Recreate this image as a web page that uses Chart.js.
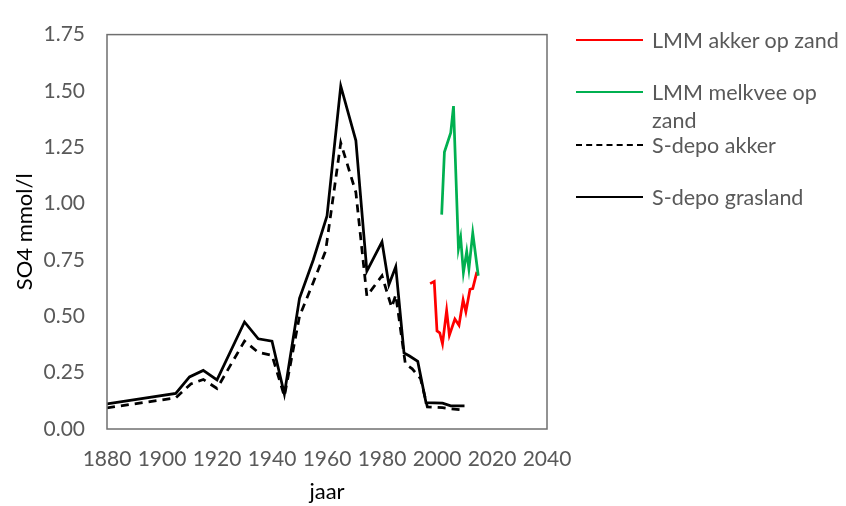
<!DOCTYPE html>
<html>
<head>
<meta charset="utf-8">
<script src="https://cdn.jsdelivr.net/npm/chart.js@4.4.1/dist/chart.umd.min.js"></script>
<style>
  html, body { margin: 0; padding: 0; background: #fff; }
  #wrap { position: relative; width: 846px; height: 506px; }
  #legend { position: absolute; left: 576px; top: 0; width: 270px; font-family: Lato, sans-serif; font-size: 21.5px; color: #595959; }
  .item { position: absolute; left: 0; display: flex; align-items: flex-start; }
  .item .swatch { width: 67px; height: 0; margin-top: 13px; flex: none; }
  .item .txt { margin-left: 9px; width: 192px; line-height: 28px; }
</style>
</head>
<body>
<div id="wrap">
  <canvas id="chart" width="846" height="506"></canvas>
  <div id="legend"></div>
</div>
<script>
// LMM akker op zand
const akkerZandJaar = [1997.5, 1999, 2000, 2001, 2002, 2003.5, 2004.5, 2006.5, 2008, 2009.5, 2010.5, 2012, 2013, 2014.5];
const akkerZandSO4 = [0.645, 0.655, 0.435, 0.427, 0.378, 0.526, 0.416, 0.488, 0.46, 0.573, 0.52, 0.62, 0.623, 0.697];

// LMM melkvee op zand
const melkveeJaar = [2001.7, 2002.7, 2005, 2006, 2007.8, 2008.6, 2009.6, 2010.8, 2011.6, 2013, 2015];
const melkveeSO4 = [0.951, 1.229, 1.315, 1.433, 0.80, 0.85, 0.694, 0.787, 0.71, 0.87, 0.68];

// S-depo akker
const depoAkkerJaar = [1880, 1905, 1910.5, 1915, 1920, 1930, 1935, 1940, 1944.5, 1950, 1955, 1959.5, 1965, 1967, 1970.5, 1974.5, 1980, 1983.5, 1985, 1988.5, 1991, 1994, 1996.5, 2002, 2005, 2009.5];
const depoAkkerSO4 = [0.094, 0.138, 0.20, 0.22, 0.18, 0.39, 0.34, 0.327, 0.145, 0.50, 0.65, 0.79, 1.27, 1.19, 1.05, 0.59, 0.68, 0.54, 0.595, 0.288, 0.267, 0.224, 0.098, 0.095, 0.09, 0.085];

// S-depo grasland
const depoGrasJaar = [1880, 1905, 1910, 1915, 1920, 1930, 1935, 1940, 1944.5, 1950, 1955, 1960, 1965, 1970.5, 1974.5, 1980, 1982.5, 1985, 1988, 1990, 1993, 1996, 2002, 2005, 2010];
const depoGrasSO4 = [0.111, 0.158, 0.231, 0.26, 0.218, 0.475, 0.40, 0.39, 0.155, 0.58, 0.75, 0.945, 1.522, 1.28, 0.70, 0.83, 0.64, 0.72, 0.338, 0.324, 0.30, 0.117, 0.115, 0.103, 0.103];

const labels = ['LMM akker op zand', 'LMM melkvee op zand', 'S-depo akker', 'S-depo grasland'];
const legendTop = [26, 78, 131, 183];

const xTicks = [1880, 1900, 1920, 1940, 1960, 1980, 2000, 2020, 2040];
const yTicks = [0, 0.25, 0.5, 0.75, 1.0, 1.25, 1.5, 1.75];

const pts = (xs, ys) => xs.map((x, i) => ({ x: x, y: ys[i] }));

const series = [
    { data: pts(akkerZandJaar, akkerZandSO4), color: '#ff0000', dash: [] },
    { data: pts(melkveeJaar, melkveeSO4), color: '#00b050', dash: [] },
    { data: pts(depoAkkerJaar, depoAkkerSO4), color: '#000000', dash: [8, 6] },
    { data: pts(depoGrasJaar, depoGrasSO4), color: '#000000', dash: [] }
];

// rand om het plotgebied
const boxPlugin = {
    id: 'box',
    afterDraw(chart) {
        const a = chart.chartArea;
        const ctx = chart.ctx;
        ctx.save();
        ctx.strokeStyle = '#6f6f6f';
        ctx.lineWidth = 1.5;
        ctx.strokeRect(a.left, a.top, a.right - a.left, a.bottom - a.top);
        ctx.restore();
    }
};

new Chart(document.getElementById('chart'), {
    type: 'scatter',
    data: {
        datasets: series.map((s, i) => ({
            label: labels[i],
            data: s.data,
            showLine: true,
            borderColor: s.color,
            backgroundColor: s.color,
            borderWidth: 2.75,
            borderDash: s.dash,
            pointRadius: 0,
            tension: 0,
            order: 3 - i
        }))
    },
    options: {
        responsive: false,
        animation: false,
        layout: { padding: { left: 0, top: 20, right: 299, bottom: 0 } },
        plugins: {
            legend: { display: false },
            tooltip: { enabled: false }
        },
        scales: {
            x: {
                type: 'linear',
                min: 1880,
                max: 2040,
                afterBuildTicks: (scale) => { scale.ticks = xTicks.map(v => ({ value: v })); },
                afterFit: (scale) => { scale.height = 77; },
                grid: { display: false, drawTicks: false },
                border: { display: false },
                ticks: { color: '#595959', padding: 18, maxRotation: 0, autoSkip: false, font: { family: 'Lato', size: 21 }, callback: (v) => String(v) },
                title: { display: true, text: 'jaar', color: '#000', font: { family: 'Lato', size: 22 }, padding: { top: 0, bottom: 1 } }
            },
            y: {
                min: 0,
                max: 1.75,
                afterBuildTicks: (scale) => { scale.ticks = yTicks.map(v => ({ value: v })); },
                afterFit: (scale) => { scale.width = 107; },
                grid: { display: false, drawTicks: false },
                border: { display: false },
                ticks: { color: '#595959', padding: 22, font: { family: 'Lato', size: 21 }, callback: (v) => v.toFixed(2) },
                title: { display: true, text: 'SO4 mmol/l', color: '#000', font: { family: 'Lato', size: 22 }, padding: { top: 12, bottom: 0 } }
            }
        }
    },
    plugins: [boxPlugin]
});

// legenda rechts, met afbreking zoals in het origineel
const legend = document.getElementById('legend');
series.forEach((s, i) => {
    const item = document.createElement('div');
    item.className = 'item';
    item.style.top = legendTop[i] + 'px';
    const sw = document.createElement('div');
    sw.className = 'swatch';
    sw.style.borderTop = '2.75px ' + (s.dash.length ? 'dashed' : 'solid') + ' ' + s.color;
    const txt = document.createElement('div');
    txt.className = 'txt';
    txt.textContent = labels[i];
    item.appendChild(sw);
    item.appendChild(txt);
    legend.appendChild(item);
});
</script>
</body>
</html>
